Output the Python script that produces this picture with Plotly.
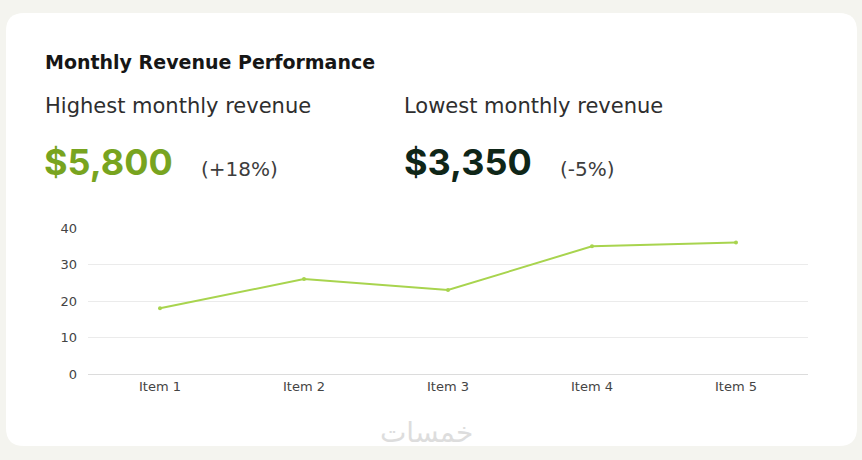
import plotly.graph_objects as go

categories = ["Item 1", "Item 2", "Item 3", "Item 4", "Item 5"]
values = [18, 26, 23, 35, 36]
y_ticks = [0, 10, 20, 30, 40]

W, H = 862, 460
L, R, T, B = 88, 808, 228, 374  # plot area in pixels


def px(x):
    return (x - L) / (R - L)


def py(y):
    return (B - y) / (B - T)


fig = go.Figure()
fig.add_trace(go.Scatter(
    x=categories, y=values, mode="lines+markers",
    line=dict(color="#a8d44e", width=2),
    marker=dict(color="#a8d44e", size=4),
    hoverinfo="skip", showlegend=False,
))

# card
cx0, cy0, cx1, cy1, r = 6, 13, 857, 446, 18
path = (
    f"M {px(cx0 + r)} {py(cy0)} L {px(cx1 - r)} {py(cy0)} "
    f"Q {px(cx1)} {py(cy0)} {px(cx1)} {py(cy0 + r)} "
    f"L {px(cx1)} {py(cy1 - r)} Q {px(cx1)} {py(cy1)} {px(cx1 - r)} {py(cy1)} "
    f"L {px(cx0 + r)} {py(cy1)} Q {px(cx0)} {py(cy1)} {px(cx0)} {py(cy1 - r)} "
    f"L {px(cx0)} {py(cy0 + r)} Q {px(cx0)} {py(cy0)} {px(cx0 + r)} {py(cy0)} Z"
)
fig.add_shape(type="path", path=path, xref="paper", yref="paper",
              fillcolor="#ffffff", line=dict(width=0), layer="below")

FONT = "DejaVu Sans, sans-serif"
NUMFONT = "Inter, Roboto, sans-serif"


def note(text, x, y, size, color, weight="normal", xanchor="left", yanchor="middle", family=FONT):
    fig.add_annotation(text=text, x=px(x), y=py(y), xref="paper", yref="paper",
                       xanchor=xanchor, yanchor=yanchor, showarrow=False,
                       font=dict(family=family, size=size, color=color, weight=weight))


note("Monthly Revenue Performance", 43, 62, 19, "#161616", weight="bold")
note("Highest monthly revenue", 43, 106, 21, "#2e2e2e")
note("Lowest monthly revenue", 402, 106, 21, "#2e2e2e")
note("$5,800", 42, 162, 36, "#78a41f", weight="bold", family=NUMFONT)
note("(+18%)", 199, 169, 20, "#3d3d3d")
note("$3,350", 402, 162, 36, "#0f2618", weight="bold", family=NUMFONT)
note("(-5%)", 558, 169, 20, "#3d3d3d")
note("خمسات", 426, 432, 28, "#dddddd", xanchor="center", family="DejaVu Sans")

fig.update_layout(
    width=W, height=H,
    margin=dict(l=L, r=W - R, t=T, b=H - B),
    paper_bgcolor="#f4f4ef", plot_bgcolor="rgba(0,0,0,0)",
    font=dict(family=FONT, color="#444444", size=13),
    xaxis=dict(type="category", range=[-0.5, 4.5], showgrid=False, zeroline=False,
               showline=True, linecolor="#dcdcdc", linewidth=1, ticks="",
               tickfont=dict(size=13, color="#444444"), fixedrange=True),
    yaxis=dict(range=[0, 40], tickvals=y_ticks, showgrid=True, gridcolor="#ebebeb",
               gridwidth=1, zeroline=False, showline=False, ticks="",
               ticklabelstandoff=10,
               tickfont=dict(size=13, color="#444444"), fixedrange=True),
)

fig.write_html(
    "out.html",
    config={"displayModeBar": False, "staticPlot": True},
    post_script="document.body.style.margin='0';document.body.style.background='#f4f4ef';",
)
